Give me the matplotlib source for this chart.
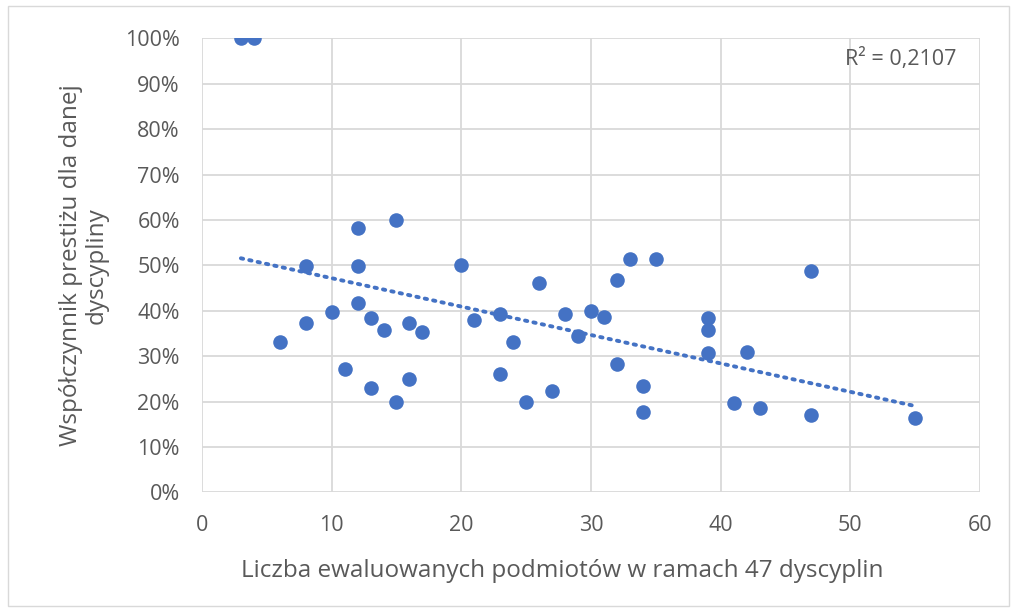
import numpy as np
import matplotlib.pyplot as plt
from matplotlib.patches import Rectangle
from matplotlib.ticker import PercentFormatter

# liczba podmiotów (x) i współczynnik prestiżu w % (y)
podmioty = [3, 4, 6, 8, 8, 10, 11, 12, 12, 12, 13, 13, 14, 15, 15, 16, 16, 17,
            20, 21, 23, 23, 24, 25, 26, 27, 28, 29, 30, 31, 32, 32, 33, 34, 34,
            35, 39, 39, 39, 41, 42, 43, 47, 47, 55]
prestiz = [100, 100, 33.1, 49.9, 37.3, 39.8, 27.2, 58.3, 49.9, 41.7, 38.4, 23.0,
           35.8, 60.0, 19.9, 37.3, 25.0, 35.4, 50.0, 38.0, 39.2, 26.1, 33.2,
           20.0, 46.2, 22.3, 39.2, 34.5, 39.9, 38.7, 46.8, 28.2, 51.4, 23.5,
           17.7, 51.4, 38.5, 35.8, 30.7, 19.6, 30.9, 18.6, 48.8, 17.0, 16.3]
x_ticks = [0, 10, 20, 30, 40, 50, 60]
y_ticks = [0, 10, 20, 30, 40, 50, 60, 70, 80, 90, 100]
r2_text = "R² = 0,2107"

plt.rcParams['font.family'] = ['Open Sans', 'DejaVu Sans']
grey = '#595959'
blue = '#4472C4'

fig = plt.figure(figsize=(10.17, 6.12), dpi=100)
ax = fig.add_axes([0.1986, 0.1953, 0.765, 0.742])

# ramka wokół całego wykresu
fig.patches.append(Rectangle((0.008, 0.01), 0.984, 0.98, transform=fig.transFigure,
                             fill=False, edgecolor='#D9D9D9', linewidth=1))

ax.scatter(podmioty, prestiz, s=110, color=blue, zorder=3, linewidths=0)

# liniowa linia trendu
x = np.array(podmioty, dtype=float)
y = np.array(prestiz, dtype=float)
a, b = np.polyfit(x, y, 1)
xs = np.array([x.min(), x.max()])
ax.plot(xs, a * xs + b, color=blue, linestyle=(0, (0.6, 1.6)), linewidth=2.8,
        dash_capstyle='round', zorder=2)

ax.set_xlim(0, 60)
ax.set_ylim(0, 100)
ax.set_xticks(x_ticks)
ax.set_yticks(y_ticks)
ax.yaxis.set_major_formatter(PercentFormatter(decimals=0))
ax.grid(True, color='#D9D9D9', linewidth=1.3)
ax.set_axisbelow(True)
for s in ax.spines.values():
    s.set_visible(False)
ax.tick_params(length=0, labelsize=15.5, colors=grey)
ax.tick_params(axis='y', pad=16)
ax.tick_params(axis='x', pad=16)

ax.set_xlabel("Liczba ewaluowanych podmiotów w ramach 47 dyscyplin",
              fontsize=17.5, color=grey, labelpad=17, x=0.4634)
ax.set_ylabel("Współczynnik prestiżu dla danej\ndyscypliny",
              fontsize=17.5, color=grey, labelpad=12, linespacing=1.05)

ax.text(49.6, 95.5, r2_text, fontsize=15.5, color=grey, va='center', ha='left')

fig.savefig("out.png", dpi=100)
